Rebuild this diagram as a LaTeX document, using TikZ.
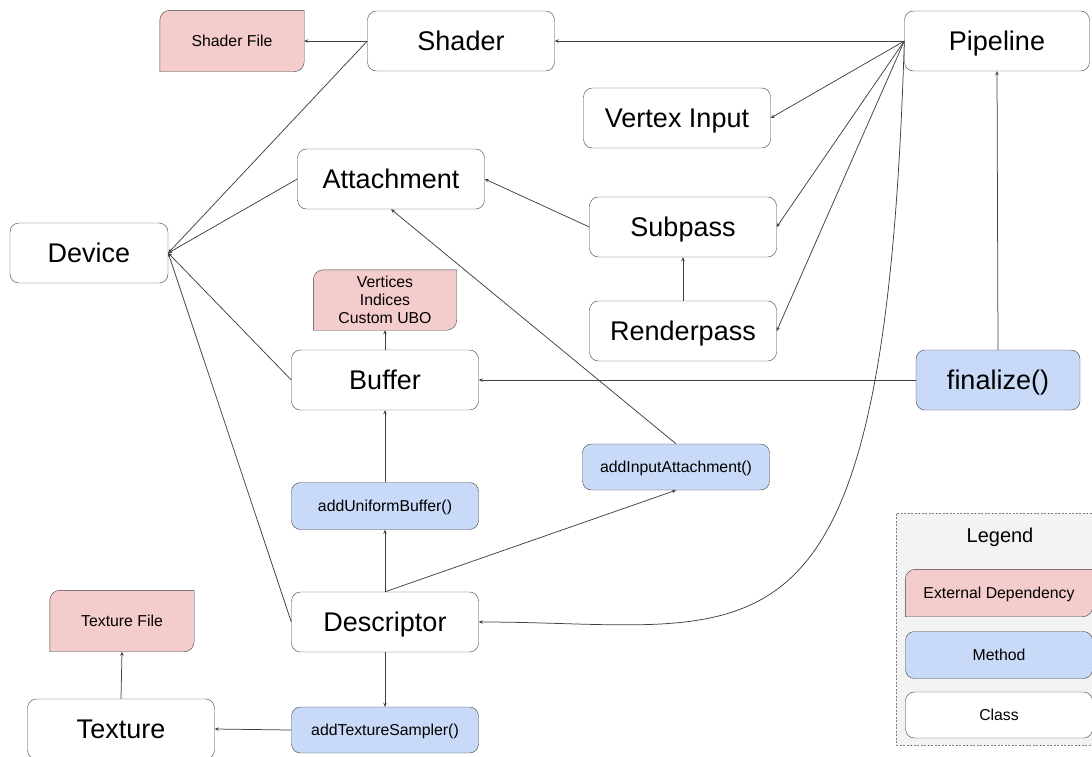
\documentclass[tikz,border=0pt]{standalone}
\usepackage{fontspec}
\setmainfont{Liberation Sans}
\usetikzlibrary{arrows.meta,backgrounds}

\definecolor{extpink}{HTML}{F4CCCC}
\definecolor{methblue}{HTML}{C9DAF8}
\definecolor{leggray}{HTML}{F3F3F3}
\definecolor{linegray}{HTML}{404040}

\tikzset{
  bigtext/.style={font=\fontsize{27}{32}\selectfont, text height=24.4pt, text depth=5.7pt},
  smalltext/.style={font=\fontsize{15.8}{18}\selectfont, text height=14.3pt, text depth=3.35pt},
  classbox/.style={draw=linegray, fill=white, rounded corners=9pt, inner sep=0pt,
    minimum width=187pt, minimum height=60pt, bigtext},
  methbox/.style={classbox, fill=methblue},
  extbox/.style={inner sep=0pt, minimum width=144pt, minimum height=61pt, smalltext},
  extshape/.style={draw=linegray, fill=extpink},
  link/.style={draw=linegray, line width=0.75pt, -{Stealth[length=4pt,width=3.5pt]}},
}

\begin{document}
\begin{tikzpicture}[x=1pt,y=-1pt]

      \useasboundingbox (0,0) rectangle (1092,756);

      % classes
      \begin{scope}[every node/.style={classbox}]
        \node (shader) at (461,41)  {Shader};
        \node[minimum width=185pt] (pipe) at (997,41) {Pipeline};
        \node (vin)    at (677,118) {Vertex Input};
        \node (att)    at (391,179) {Attachment};
        \node[minimum width=158pt] (dev) at (89,253) {Device};
        \node (sub)    at (683,227) {Subpass};
        \node (rp)     at (683,331) {Renderpass};
        \node (buf)    at (385,380) {Buffer};
        \node (desc)   at (385,622) {Descriptor};
        \node (tex)    at (121,729) {Texture};
      \end{scope}

      % methods
      \begin{scope}[every node/.style={methbox}]
        \node[minimum width=164pt] (fin) at (998,380) {finalize()};
        \node[smalltext, minimum height=46pt] (addia) at (676,467) {addInputAttachment()};
        \node[smalltext, minimum height=47pt] (addub) at (385,506) {addUniformBuffer()};
        \node[smalltext, minimum height=46pt] (addts) at (385,730) {addTextureSampler()};
      \end{scope}

      % external dependencies
      \begin{scope}[every node/.style={extbox}]
        \node (shf)  at (232,41)  {Shader File};
        \node (texf) at (122,621) {Texture File};
        \node[minimum width=143pt, minimum height=60pt, align=center,
          font=\fontsize{15.8}{18}\selectfont, text height=, text depth=] (bufd) at (385,300)
          {Vertices\\Indices\\Custom UBO};
      \end{scope}

      % legend
      \node[font=\fontsize{20}{24}\selectfont, text height=18.1pt, text depth=4.2pt] (leg) at (1000,536) {Legend};
      \node[extbox, minimum width=187pt, minimum height=47pt] (legext) at (999,593) {External Dependency};
      \node[methbox, smalltext, minimum height=47pt] (legmeth) at (999,655) {Method};
      \node[classbox, smalltext, minimum height=46pt] (legcls) at (999,715) {Class};

      \begin{scope}[on background layer]
        \node[draw=gray, fill=leggray, dash pattern=on 2pt off 1.5pt,
          minimum width=204pt, minimum height=232pt] (legbox) at (998,629) {};
        % rounded only at top left and bottom right
        \foreach \n in {shf,texf,bufd,legext}
          \draw[extshape] (\n.south west) -- ([yshift=-10pt]\n.north west)
            .. controls ([yshift=-4.5pt]\n.north west) and ([xshift=4.5pt]\n.north west)
            .. ([xshift=10pt]\n.north west)
            -- (\n.north east) -- ([yshift=10pt]\n.south east)
            .. controls ([yshift=4.5pt]\n.south east) and ([xshift=-4.5pt]\n.south east)
            .. ([xshift=-10pt]\n.south east) -- cycle;
      \end{scope}

      \begin{scope}[every edge/.style={link}]
        \path (shader.west) edge (shf.east);
        \path (pipe.west)   edge (shader.east);
        \path (pipe.west)   edge (vin.east);
        \path (pipe.west)   edge (sub.east);
        \path (pipe.west)   edge (rp.east);
        \path (shader.west) edge (dev.east);
        \path (att.west)    edge (dev.east);
        \path (buf.west)    edge (dev.east);
        \path (desc.west)   edge (dev.east);
        \path (sub.west)    edge (att.east);
        \path (rp.north)    edge (sub.south);
        \path (fin.north)   edge (pipe.south);
        \path (fin.west)    edge (buf.east);
        \path (buf.north)   edge (bufd.south);
        \path (addub.north) edge (buf.south);
        \path (desc.north)  edge (addub.south);
        \path (desc.north)  edge (addia.south);
        \path (addia.north) edge (att.south);
        \path (desc.south)  edge (addts.north);
        \path (addts.west)  edge (tex.east);
        \path (tex.north)   edge (texf.south);
      \end{scope}

      \draw[link] (pipe.west) .. controls +(-20,659) and +(282,0) .. (desc.east);

    \end{tikzpicture}
\end{document}
